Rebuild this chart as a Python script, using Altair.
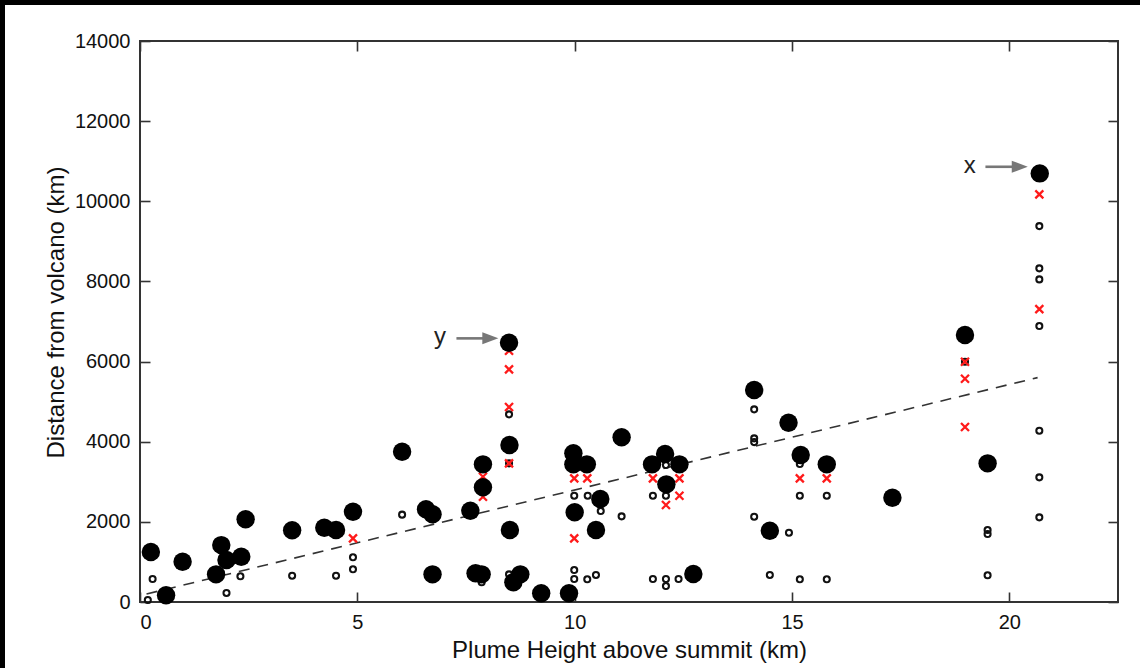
import altair as alt
import pandas as pd

FONT = "Liberation Sans"

# Large filled circles
big_x = [0.25, 0.6, 0.98, 1.87, 1.99, 1.75, 2.33, 2.43, 3.5, 4.24, 4.51, 4.9,
         6.03, 6.58, 6.73, 7.6, 7.89, 7.89, 8.5, 8.51, 6.73, 7.72, 7.86, 8.59,
         8.75, 9.23, 9.87, 9.97, 9.97, 10.28, 10.0, 10.59, 10.49, 11.08, 12.08,
         11.78, 12.41, 12.11, 12.73, 14.13, 14.92, 15.2, 15.8, 14.49, 18.98,
         19.5, 17.31, 20.7, 8.49]
big_y = [1250, 170, 1005, 1420, 1048, 690, 1130, 2063, 1789, 1854, 1796, 2253,
         3750, 2313, 2188, 2278, 3435, 2862, 3917, 1796, 690, 716, 690, 491,
         690, 217, 217, 3710, 3435, 3435, 2238, 2570, 1796, 4110, 3693,
         3435, 3435, 2936, 699, 5290, 4474, 3668, 3435, 1779, 6662,
         3460, 2602, 10696, 6470]

# Small open circles
small_x = [0.18, 0.29, 1.99, 2.31, 3.5, 4.51, 4.9, 4.9, 6.03, 8.49,
           8.49, 7.86, 8.49, 9.99, 10.3, 10.6, 9.99, 9.99, 10.29, 10.49,
           11.08, 11.8, 12.1, 12.1, 11.8, 12.1, 12.1, 12.39, 14.13, 14.13,
           14.13, 15.18, 15.18, 15.8, 14.13, 14.93, 14.49, 15.18, 15.8, 18.98,
           20.69, 20.69, 20.69, 20.69, 19.5, 19.5, 19.5, 20.69, 20.69, 20.69]
small_y = [50, 574, 225, 641, 656, 656, 1115, 816, 2180, 4683,
           3460, 491, 690, 2652, 2652, 2270, 798, 574, 566, 674,
           2138, 2652, 2652, 3418, 574, 574, 399, 574, 4808, 4084,
           3990, 3443, 2652, 2652, 2128, 1730, 674, 566, 566, 5996,
           6886, 4274, 3111, 2113, 1796, 1697, 666, 9381, 8326, 8051]

# Red crosses
cross_x = [4.9, 8.49, 8.49, 8.49, 8.49, 7.89, 7.89, 9.99, 10.29, 9.99, 11.8,
           12.41, 12.41, 12.1, 15.18, 15.8, 18.98, 18.98, 18.98, 20.69, 20.69]
cross_y = [1589, 6270, 5806, 4865, 3460, 3127, 2628, 3086, 3086, 1589, 3086,
           3086, 2652, 2420, 3086, 3086, 5996, 5572, 4366, 10172, 7310]

# Dashed fit line end points
fit_x = [0.15, 20.65]
fit_y = [200, 5600]

# Annotations
label_text = ["y", "x"]
label_x = [6.9, 19.09]
label_y = [6612, 10878]
arrow_x1 = [7.28, 19.45]
arrow_x2 = [8.0, 20.1]
arrow_head_x = [8.06, 20.24]
arrow_y = [6579, 10861]

x_ticks = [0, 5, 10, 15, 20]
y_ticks = [0, 2000, 4000, 6000, 8000, 10000, 12000, 14000]

big = pd.DataFrame({"h": big_x, "d": big_y})
small = pd.DataFrame({"h": small_x, "d": small_y})
cross = pd.DataFrame({"h": cross_x, "d": cross_y})
fit = pd.DataFrame({"h": fit_x, "d": fit_y})
labels = pd.DataFrame({"h": label_x, "d": label_y, "t": label_text})
arrows = pd.DataFrame({"h": arrow_x1, "h2": arrow_x2, "hh": arrow_head_x, "d": arrow_y})
one = pd.DataFrame({"a": [0]})

xs = alt.Scale(domain=[0, 22.5], nice=False, zero=False)
ys = alt.Scale(domain=[0, 14000], nice=False, zero=False)

TICK = dict(ticks=True, tickSize=10, tickColor="#333", tickWidth=1.6,
            domain=False, grid=False)

x_bottom = alt.Axis(orient="bottom", values=x_ticks, offset=-10, labelPadding=10,
                    labelFont=FONT, labelFontSize=20, labelColor="#111",
                    titleFont=FONT, titleFontSize=24, titleFontWeight="normal",
                    titleColor="#111", titleY=65, titleBaseline="alphabetic",
                    format="d", **TICK)
y_left = alt.Axis(orient="left", values=y_ticks, offset=-10, labelPadding=10,
                  labelFont=FONT, labelFontSize=20, labelColor="#111",
                  titleFont=FONT, titleFontSize=24, titleFontWeight="normal",
                  titleColor="#111", titleX=-94, titleY=271, titleAlign="center",
                  titleBaseline="middle", titleAngle=270, format="d", **TICK)
x_top = alt.Axis(orient="top", values=x_ticks, offset=-10, labels=False, **TICK)
y_right = alt.Axis(orient="right", values=y_ticks, offset=-10, labels=False, **TICK)

def X(field="h", axis=None):
    if axis is None:
        return alt.X(field, type="quantitative", scale=xs, axis=None)
    return alt.X(field, type="quantitative", scale=xs, axis=axis,
                 title="Plume Height above summit (km)")

def Y(field="d", axis=None):
    if axis is None:
        return alt.Y(field, type="quantitative", scale=ys, axis=None)
    return alt.Y(field, type="quantitative", scale=ys, axis=axis,
                 title="Distance from volcano (km)")

strips = alt.Chart(one).mark_rect(color="#000").encode(
    x=alt.value(-140), x2=alt.value(-135), y=alt.value(-41), y2=alt.value(627))
strip_top = alt.Chart(one).mark_rect(color="#000").encode(
    x=alt.value(-140), x2=alt.value(1000), y=alt.value(-41), y2=alt.value(-36))

fit_line = alt.Chart(fit).mark_line(color="#333", strokeWidth=1.6,
                                    strokeDash=[11, 8]).encode(x=X(), y=Y())

small_pts = alt.Chart(small).mark_point(shape="circle", filled=False, size=36,
                                        strokeWidth=2.1, color="#111",
                                        opacity=1).encode(x=X(), y=Y())

cross_pts = alt.Chart(cross).mark_point(shape="M-1,-1L1,1M-1,1L1,-1", filled=False,
                                        size=64, strokeWidth=2.3, color="#ff1a1a",
                                        opacity=1).encode(x=X(), y=Y())

big_pts = alt.Chart(big).mark_circle(size=340, color="#000", opacity=1).encode(
    x=X(axis=x_bottom), y=Y(axis=y_left))

axes_mirror = alt.Chart(big).mark_point(opacity=0).encode(
    x=alt.X("h", type="quantitative", scale=xs, axis=x_top, title=None),
    y=alt.Y("d", type="quantitative", scale=ys, axis=y_right, title=None))

shafts = alt.Chart(arrows).mark_rule(color="#777", strokeWidth=2.6).encode(
    x=X(), x2="h2", y=Y())
heads = alt.Chart(arrows).mark_point(shape="M-1,-0.75L1,0L-1,0.75Z", filled=True,
                                     size=256, color="#777", opacity=1).encode(
    x=X("hh"), y=Y())

texts = alt.Chart(labels).mark_text(font=FONT, fontSize=24, color="#222",
                                    baseline="middle", align="center").encode(
    x=X(), y=Y(), text="t:N")

chart = alt.layer(strips, strip_top, fit_line, small_pts, cross_pts, big_pts,
                  axes_mirror, shafts, heads, texts).resolve_axis(
    x="independent", y="independent").properties(
    width=978, height=561,
    autosize=alt.AutoSizeParams(type="none"),
    padding={"left": 140, "top": 41, "right": 22, "bottom": 66},
    background="white",
).configure_view(stroke="#333", strokeWidth=2)

chart.save("out.html", embed_options={"renderer": "svg", "actions": False})
